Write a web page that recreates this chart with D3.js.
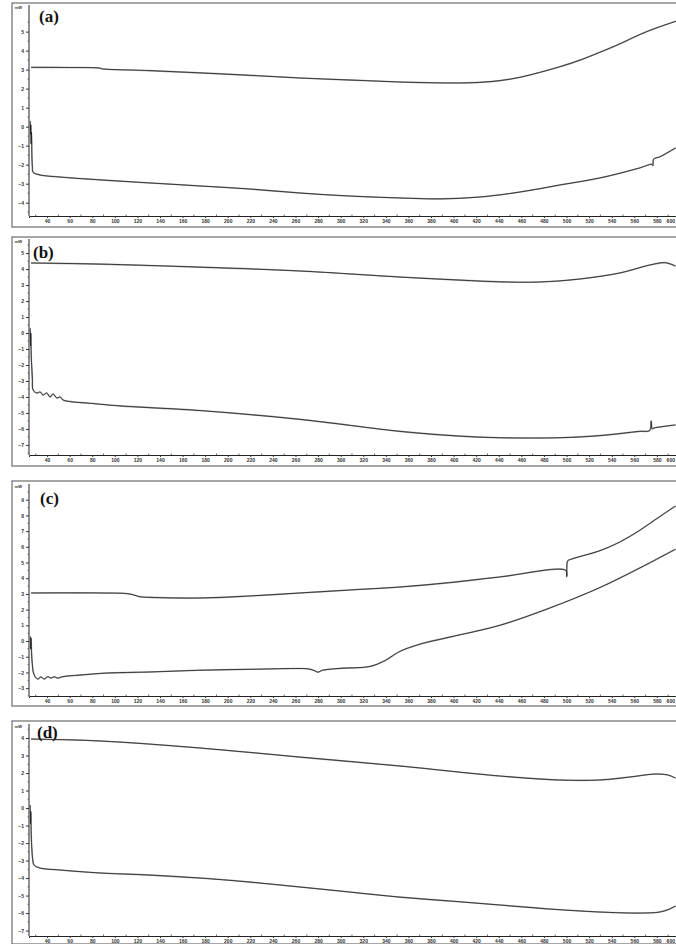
<!DOCTYPE html>
<html><head><meta charset="utf-8">
<script src="https://cdn.jsdelivr.net/npm/d3@7"></script>
<style>body{margin:0;background:#fff}svg{display:block}</style>
</head><body>
<svg id="c" width="676" height="944"></svg>
<script>
// ---------- DATA ----------
const panelLabels = ["(a)", "(b)", "(c)", "(d)"];
const unitLabel = "mW";
const xTickValues = d3.range(40, 601, 20);
const xMinorTicks = d3.range(30, 611, 20);
const yTicksA = d3.range(-4, 6);
const yTicksB = d3.range(-7, 6);
const yTicksC = d3.range(-3, 10);
const yTicksD = d3.range(-7, 5);

// temperature (x) and heat-flow (mW) pairs
const aUpperT = [25.8, 60, 86.9, 88, 130, 175, 220, 264, 310, 352, 380, 405, 423, 441, 459, 476, 494, 512, 529, 547, 565, 580, 597];
const aUpperV = [3.12, 3.11, 3.08, 3.05, 2.95, 2.83, 2.7, 2.56, 2.45, 2.35, 2.31, 2.3, 2.33, 2.42, 2.6, 2.85, 3.15, 3.5, 3.9, 4.35, 4.85, 5.2, 5.55];
const aLowerT = [25.0, 25.3, 25.6, 25.9, 26.2, 26.6, 27.0, 27.6, 33.8, 51.5, 86.9, 131, 175.4, 219.6, 263.9, 308, 352.4, 387.8, 423.2, 458.6, 494, 529.4, 564.8, 575.4, 576.5, 577.2, 582.5, 596.5];
const aLowerV = [0.3, -0.4, 0.1, -0.9, -0.3, -1.6, -2.1, -2.4, -2.54, -2.65, -2.8, -2.96, -3.12, -3.28, -3.49, -3.65, -3.75, -3.8, -3.7, -3.44, -3.07, -2.7, -2.17, -1.98, -2.05, -1.7, -1.59, -1.12];

const bUpperT = [25.8, 86.9, 175.4, 263.9, 352.4, 405.5, 441, 476, 512, 547, 573.6, 587, 596.5];
const bUpperV = [4.38, 4.31, 4.12, 3.88, 3.5, 3.31, 3.2, 3.19, 3.38, 3.75, 4.25, 4.4, 4.19];
const bLowerT = [25.0, 25.3, 25.6, 26.0, 26.5, 27.0, 27.6, 30.9, 33.8, 36.5, 39.7, 42.7, 45.3, 48.6, 51.5, 54.2, 63, 75.4, 104.6, 175.4, 263.9, 352.4, 405.5, 441, 494, 529.4, 564.8, 573.6, 575.0, 575.8, 577, 596.5];
const bLowerV = [0.3, -0.8, 0.0, -1.5, -2.2, -2.9, -3.56, -3.75, -3.69, -3.88, -3.75, -4.0, -3.81, -4.06, -4.0, -4.19, -4.31, -4.38, -4.56, -4.85, -5.4, -6.15, -6.45, -6.55, -6.55, -6.42, -6.15, -6.1, -5.5, -6.0, -5.95, -5.75];

const cUpperT = [25.8, 86.9, 113, 122.3, 131.2, 175.4, 219.6, 263.9, 308, 352.4, 396.6, 440.9, 499.3, 500.2, 501, 503.7, 529.4, 547, 564.8, 580, 596.5];
const cUpperV = [3.06, 3.06, 3.0, 2.82, 2.78, 2.74, 2.87, 3.06, 3.25, 3.44, 3.72, 4.08, 4.5, 4.1, 5.1, 5.2, 5.75, 6.3, 7.05, 7.8, 8.6];
const cLowerT = [25.0, 25.4, 25.8, 26.3, 27.0, 28.0, 29.5, 31.7, 34.6, 37.6, 40.5, 43.5, 46.4, 49.3, 53.8, 68.5, 93, 131.2, 175.4, 219.6, 263.9, 272, 277.2, 279.8, 284, 299.3, 325.8, 339.1, 352.4, 370.1, 396.6, 440.9, 485.1, 529.4, 564.8, 596.5];
const cLowerV = [0.3, -0.5, 0.2, -0.8, -1.53, -2.04, -2.27, -2.42, -2.29, -2.42, -2.27, -2.36, -2.27, -2.36, -2.27, -2.17, -2.04, -1.97, -1.86, -1.8, -1.75, -1.78, -1.9, -1.98, -1.86, -1.74, -1.62, -1.25, -0.66, -0.2, 0.25, 1.0, 2.1, 3.4, 4.65, 5.85];

const dUpperT = [25.8, 86.9, 175.4, 263.9, 352.4, 440.9, 494, 529.4, 556, 578, 589.6, 596.5];
const dUpperV = [3.94, 3.83, 3.43, 2.91, 2.4, 1.83, 1.6, 1.6, 1.77, 1.94, 1.89, 1.71];
const dLowerT = [25.0, 25.3, 25.6, 26.0, 26.5, 27.2, 28.5, 33.8, 51.5, 86.9, 131.2, 175.4, 219.6, 263.9, 308, 352.4, 396.6, 440.9, 485.1, 529.4, 564.8, 582.5, 591.3, 596.5];
const dLowerV = [0.17, -0.9, -0.2, -1.6, -2.3, -2.9, -3.26, -3.43, -3.54, -3.71, -3.83, -4.0, -4.23, -4.51, -4.8, -5.09, -5.31, -5.54, -5.77, -5.94, -6.0, -5.94, -5.77, -5.6];

// ---------- LAYOUT ----------
const panels = [
  {label: panelLabels[0], top: 3, bottom: 227, axisTop: 5, axisBottom: 216, yDom: [-4.7, 6.4], ticks: yTicksA,
   series: [[aUpperT, aUpperV], [aLowerT, aLowerV]], lx: 39, ly: 22},
  {label: panelLabels[1], top: 237, bottom: 466, axisTop: 239, axisBottom: 455, yDom: [-7.63, 5.88], ticks: yTicksB,
   series: [[bUpperT, bUpperV], [bLowerT, bLowerV]], lx: 33, ly: 258},
  {label: panelLabels[2], top: 481, bottom: 706, axisTop: 484, axisBottom: 696, yDom: [-3.5, 10.0], ticks: yTicksC,
   series: [[cUpperT, cUpperV], [cLowerT, cLowerV]], lx: 40, ly: 504},
  {label: panelLabels[3], top: 721, bottom: 944, axisTop: 724, axisBottom: 936, yDom: [-7.31, 4.8], ticks: yTicksD,
   series: [[dUpperT, dUpperV], [dLowerT, dLowerV]], lx: 37, ly: 738}
];

const svg = d3.select("#c");
const x = d3.scaleLinear().domain([24, 612]).range([29, 693]);

panels.forEach(p => {
  const g = svg.append("g");
  g.append("rect").attr("x", 12).attr("y", p.top).attr("width", 700).attr("height", p.bottom - p.top)
    .attr("fill", "none").attr("stroke", "#777").attr("stroke-width", 1.3);
  const y = d3.scaleLinear().domain(p.yDom).range([p.axisBottom, p.axisTop]);

  const ya = g.append("g").attr("transform", `translate(29,0)`)
    .call(d3.axisLeft(y).tickValues(p.ticks).tickSize(3).tickFormat(d3.format("d")));
  ya.select(".domain").attr("stroke", "#222").attr("stroke-width", 1).attr("d", `M0,${p.axisTop}V${p.axisBottom}`);
  ya.selectAll("text").attr("font-size", 5).attr("font-weight", "bold").attr("font-family", "Liberation Sans, Arial").attr("fill", "#333").attr("x", -5);
  ya.selectAll("line").attr("stroke", "#333");
  const yMinor = d3.range(Math.ceil(p.yDom[0] * 2) / 2, p.yDom[1], 0.5).filter(v => v % 1 !== 0);
  g.selectAll(".ym").data(yMinor).join("line")
    .attr("x1", 27.5).attr("x2", 29).attr("y1", d => y(d)).attr("y2", d => y(d)).attr("stroke", "#444").attr("stroke-width", 0.7);
  g.append("text").attr("x", 22).attr("y", p.axisTop + 4).attr("text-anchor", "end")
    .attr("font-size", 4).attr("font-weight", "bold").attr("font-family", "Liberation Sans, Arial").attr("fill", "#333").text(unitLabel);

  const xa = g.append("g").attr("transform", `translate(0,${p.axisBottom})`)
    .call(d3.axisBottom(x).tickValues(xTickValues).tickSize(2).tickPadding(1).tickFormat(d3.format("d")));
  xa.select(".domain").attr("stroke", "#222").attr("stroke-width", 1);
  xa.selectAll("text").attr("font-size", 5).attr("font-weight", "bold").attr("font-family", "Liberation Sans, Arial").attr("fill", "#333")
    .filter(d => d === 600).attr("text-anchor", "end").attr("dx", -5);
  xa.selectAll("line").attr("stroke", "#333");
  g.selectAll(".xm").data(xMinorTicks).join("line")
    .attr("x1", d => x(d)).attr("x2", d => x(d)).attr("y1", p.axisBottom - 1.5).attr("y2", p.axisBottom).attr("stroke", "#444").attr("stroke-width", 0.8);

  const lineC = d3.line().x(d => x(d[0])).y(d => y(d[1])).curve(d3.curveCatmullRom.alpha(0.5));
  p.series.forEach(([T, V]) => {
    const pts = T.map((t, i) => [t, V[i]]);
    g.append("path").datum(pts).attr("fill", "none").attr("stroke", "#aaa").attr("stroke-width", 1.6).attr("d", lineC);
    g.append("path").datum(pts).attr("fill", "none").attr("stroke", "#1a1a1a").attr("stroke-width", 0.8).attr("d", lineC);
  });

  g.append("text").attr("x", p.lx).attr("y", p.ly).attr("font-family", "Liberation Serif, DejaVu Serif, serif")
    .attr("font-weight", "bold").attr("font-size", 17).attr("fill", "#111").text(p.label);
});
</script>
</body></html>
